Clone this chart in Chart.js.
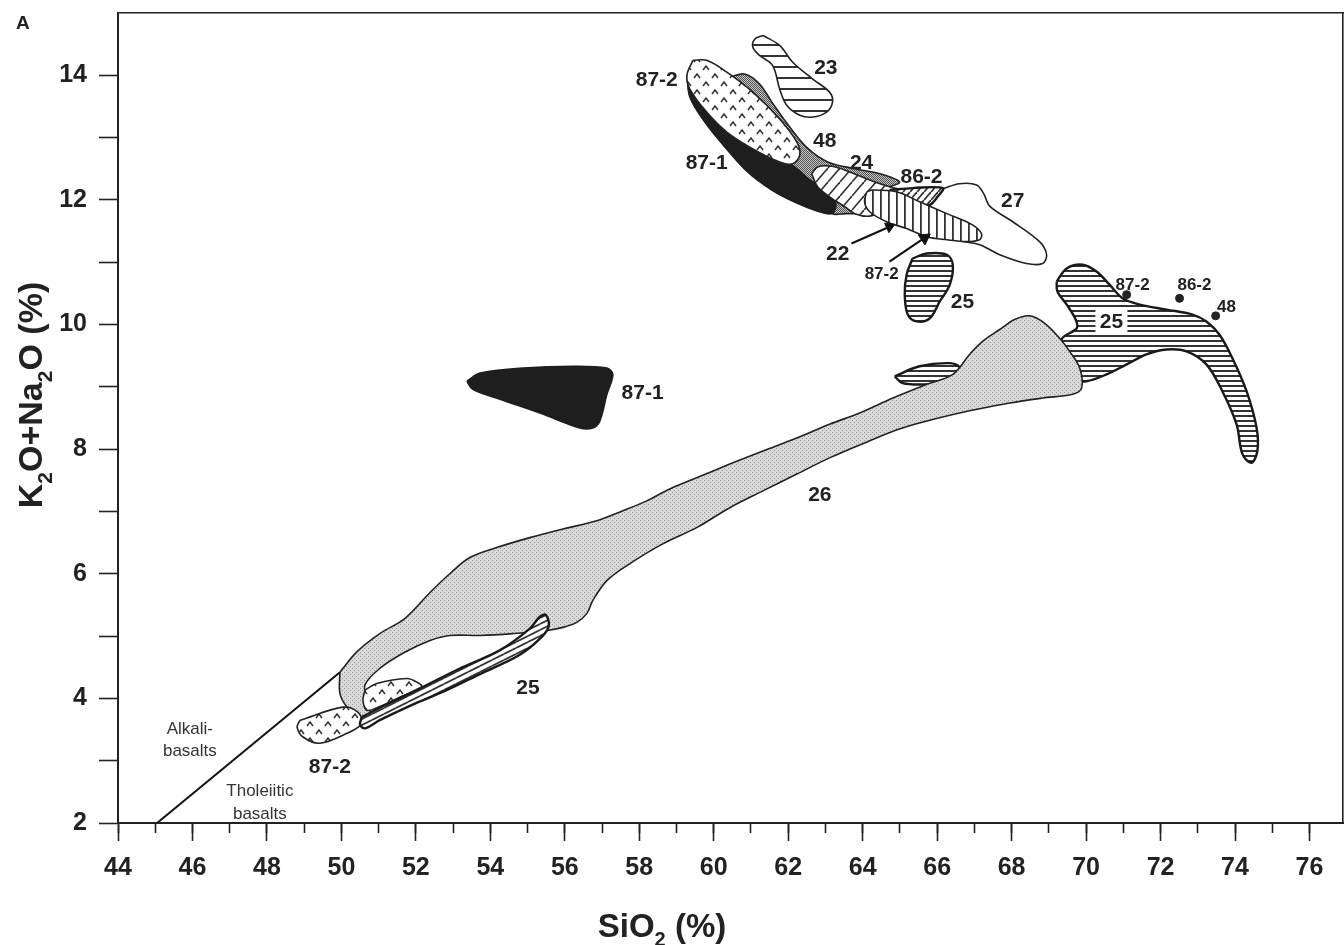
<!DOCTYPE html>
<html>
<head>
<meta charset="utf-8">
<title>K2O+Na2O vs SiO2</title>
<script src="https://cdn.jsdelivr.net/npm/chart.js@4.4.1/dist/chart.umd.min.js"></script>
<style>
  html, body { margin: 0; padding: 0; background: #fff; }
  #wrap { width: 1344px; height: 945px; position: relative; }
</style>
</head>
<body>
<div id="wrap"><canvas id="tasChart"></canvas></div>
<script>
// tick labels
const xTickLabels = [44, 46, 48, 50, 52, 54, 56, 58, 60, 62, 64, 66, 68, 70, 72, 74, 76];
const yTickLabels = [2, 4, 6, 8, 10, 12, 14];

// outlines of the fields, [SiO2, K2O+Na2O]
const field26 = [[49.96,4.42],[50.42,4.75],[51.03,5.04],[51.70,5.28],[52.38,5.70],[52.91,6.00],[53.45,6.26],[54.17,6.42],[55.06,6.58],[55.95,6.72],[56.86,6.85],[57.56,7.01],[58.20,7.17],[58.82,7.36],[59.54,7.54],[60.43,7.76],[61.32,7.97],[62.23,8.18],[63.11,8.40],[63.92,8.58],[64.81,8.82],[65.72,9.04],[66.42,9.20],[66.87,9.52],[67.22,9.73],[67.68,9.92],[68.08,10.08],[68.48,10.14],[68.89,10.02],[69.29,9.78],[69.56,9.57],[69.83,9.30],[69.88,8.98],[69.64,8.88],[68.83,8.82],[67.95,8.74],[66.60,8.58],[65.07,8.34],[64.05,8.10],[63.11,7.86],[62.23,7.60],[61.32,7.33],[60.43,7.06],[59.54,6.74],[58.63,6.48],[57.74,6.16],[57.13,5.89],[56.75,5.57],[56.59,5.36],[56.32,5.22],[55.95,5.14],[55.52,5.09],[54.60,5.04],[53.72,5.01],[52.91,5.01],[52.38,4.93],[51.70,4.74],[51.03,4.48],[50.63,4.21],[50.71,3.97],[50.77,3.73],[50.50,3.68],[50.15,3.86],[49.96,4.08]];
const field25East = [[69.21,10.69],[69.48,10.90],[69.91,10.96],[70.28,10.85],[70.63,10.64],[70.98,10.42],[71.44,10.32],[72.16,10.24],[72.86,10.16],[73.23,10.05],[73.58,9.84],[73.93,9.46],[74.31,8.93],[74.58,8.34],[74.60,7.97],[74.44,7.78],[74.20,7.92],[74.04,8.40],[73.66,8.93],[73.23,9.36],[72.70,9.57],[72.16,9.60],[71.62,9.52],[71.09,9.36],[70.55,9.20],[70.01,9.09],[69.69,9.12],[69.42,9.41],[69.34,9.76],[69.75,9.94],[69.72,10.08],[69.48,10.32],[69.23,10.53]];
const field25Lens = [[64.86,9.17],[65.53,9.33],[66.34,9.38],[66.60,9.31],[66.47,9.09],[65.72,9.04],[65.07,9.06]];
const field25Strip = [[50.55,3.70],[51.17,3.89],[52.11,4.16],[53.18,4.48],[54.25,4.77],[55.06,5.12],[55.33,5.31],[55.49,5.34],[55.57,5.17],[55.40,5.00],[54.79,4.70],[53.72,4.39],[52.78,4.12],[51.84,3.88],[51.03,3.65],[50.63,3.52],[50.50,3.58]];
const field25North = [[65.34,11.06],[65.72,11.14],[66.26,11.12],[66.42,10.96],[66.34,10.64],[66.07,10.37],[65.80,10.10],[65.45,10.05],[65.21,10.16],[65.13,10.48],[65.18,10.80]];
const field87_2West = [[48.89,3.65],[50.04,3.86],[50.44,3.78],[50.55,3.60],[50.15,3.44],[49.42,3.28],[48.97,3.38],[48.81,3.54]];
const field87_2Mid = [[50.63,4.13],[50.95,4.24],[51.76,4.32],[52.03,4.26],[52.16,4.18],[51.57,4.02],[51.03,3.87],[50.68,3.81],[50.58,3.97]];
const field87_2North = [[59.44,14.24],[59.28,14.00],[59.36,13.78],[59.81,13.41],[60.35,13.09],[61.05,12.82],[61.77,12.61],[62.12,12.58],[62.31,12.72],[62.23,12.93],[61.77,13.30],[61.05,13.73],[60.35,14.05],[59.81,14.24]];
const field87_1West = [[53.37,9.09],[53.72,9.22],[54.87,9.30],[56.21,9.33],[57.13,9.30],[57.29,9.20],[57.13,8.88],[56.94,8.45],[56.75,8.34],[56.40,8.34],[55.33,8.58],[54.26,8.80],[53.53,8.96]];
const field87_1North = [[59.28,14.00],[59.36,13.65],[59.76,13.25],[60.30,12.85],[60.91,12.45],[61.56,12.16],[62.23,11.95],[62.79,11.82],[63.17,11.78],[63.28,11.94],[63.01,12.13],[62.52,12.35],[62.17,12.53],[61.23,12.93],[60.16,13.41],[59.62,13.81]];
const field48 = [[60.43,13.97],[60.83,14.02],[61.23,13.86],[61.56,13.57],[62.04,13.17],[62.52,12.83],[63.06,12.61],[63.79,12.50],[64.46,12.42],[64.99,12.29],[64.72,12.21],[64.19,12.13],[63.97,11.81],[63.52,11.78],[63.17,11.78],[62.85,11.97],[62.31,12.29],[61.77,12.58],[61.23,12.93],[60.83,13.33],[60.56,13.65]];
const field24 = [[62.63,12.42],[62.79,12.53],[63.17,12.54],[63.65,12.45],[64.19,12.32],[64.72,12.21],[65.13,12.13],[64.99,11.97],[64.59,11.84],[64.19,11.74],[63.79,11.78],[63.52,11.89],[63.11,12.05],[62.79,12.21]];
const field86_2 = [[64.72,12.16],[65.34,12.19],[66.15,12.19],[66.01,12.05],[65.80,11.92],[65.34,11.89],[64.99,11.97]];
const field22 = [[64.11,12.13],[64.27,12.16],[64.91,12.13],[65.53,11.97],[66.26,11.78],[66.95,11.60],[67.19,11.46],[67.14,11.36],[66.79,11.33],[66.26,11.36],[65.72,11.41],[65.18,11.54],[64.64,11.65],[64.19,11.81],[64.05,11.97]];
const field27 = [[66.15,12.18],[66.60,12.26],[67.06,12.24],[67.25,12.10],[67.41,11.90],[68.03,11.65],[68.75,11.33],[68.94,11.12],[68.83,10.98],[68.40,10.98],[67.68,11.12],[67.14,11.28],[66.47,11.36],[66.07,11.46],[65.66,11.73],[65.80,11.97]];
const field23 = [[61.32,14.64],[61.77,14.48],[62.12,14.21],[62.66,13.94],[63.11,13.73],[63.19,13.57],[63.03,13.41],[62.66,13.33],[62.31,13.36],[61.96,13.52],[61.77,13.78],[61.58,14.16],[61.23,14.32],[61.05,14.45],[61.10,14.58]];

// single samples, dividing line and arrows
const samplePoints = [[71.09,10.48],[72.51,10.42],[73.48,10.14]];
const alkaliLine = [[45.05,2.0],[49.96,4.42]];
const arrow22 = [[63.70,11.30],[64.72,11.57]];
const arrow87_2 = [[64.72,11.01],[65.66,11.39]];

// text labels: text, SiO2, K2O+Na2O, kind
const fieldLabels = [
  ['87-2', 58.47, 13.94, 'big'], ['23', 63.01, 14.13, 'big'], ['48', 62.98, 12.96, 'big'],
  ['87-1', 59.81, 12.61, 'big'], ['24', 63.97, 12.61, 'big'], ['86-2', 65.58, 12.38, 'big'],
  ['27', 68.03, 12.00, 'big'], ['22', 63.33, 11.14, 'big'], ['87-2', 64.51, 10.83, 'small'],
  ['25', 66.68, 10.37, 'big'], ['87-2', 71.25, 10.64, 'small'], ['86-2', 72.91, 10.64, 'small'],
  ['48', 73.77, 10.30, 'small'], ['25', 70.68, 10.05, 'boxed'], ['87-1', 58.09, 8.91, 'big'],
  ['26', 62.85, 7.28, 'big'], ['25', 55.01, 4.18, 'big'], ['87-2', 49.69, 2.91, 'big'],
  ['Alkali-', 45.93, 3.52, 'note'], ['basalts', 45.93, 3.17, 'note'],
  ['Tholeiitic', 47.81, 2.53, 'note'], ['basalts', 47.81, 2.16, 'note']
];

const FONT = '"Liberation Sans", Arial, Helvetica, sans-serif';
const INK = '#222';

function makePattern(w, h, paint) {
  const c = document.createElement('canvas');
  c.width = w; c.height = h;
  const g = c.getContext('2d');
  g.fillStyle = '#fff';
  g.fillRect(0, 0, w, h);
  paint(g, w, h);
  return g.createPattern(c, 'repeat');
}
const hatchH = (gap, lw, col) => makePattern(8, gap, (g, w) => { g.fillStyle = col; g.fillRect(0, 0, w, lw); });
const hatchV = (gap, lw, col) => makePattern(gap, 8, (g, w, h) => { g.fillStyle = col; g.fillRect(0, 0, lw, h); });
const hatchSlope = (w, h, lw, col) => makePattern(w, h, g => {
  g.strokeStyle = col; g.lineWidth = lw;
  for (let k = -1; k <= 1; k++) {
    g.beginPath(); g.moveTo(0, h + k * h); g.lineTo(w, k * h); g.stroke();
  }
});
const caretPattern = makePattern(18, 16, g => {
  g.strokeStyle = '#333'; g.lineWidth = 1.5;
  [[4, 4], [13, 12]].forEach(([x, y]) => {
    g.beginPath(); g.moveTo(x - 3, y + 2); g.lineTo(x, y - 2); g.lineTo(x + 3, y + 2); g.stroke();
  });
});
const screenLight = makePattern(4, 4, g => {
  g.fillStyle = '#d9d9d9'; g.fillRect(0, 0, 4, 4);
  g.fillStyle = '#9a9a9a'; g.fillRect(0, 0, 1, 1); g.fillRect(2, 2, 1, 1);
});
const screenDark = makePattern(2, 2, g => {
  g.fillStyle = '#c4c4c4'; g.fillRect(0, 0, 2, 2);
  g.fillStyle = '#555'; g.fillRect(0, 0, 1, 1); g.fillRect(1, 1, 1, 1);
});

function closed(arr) {
  const pts = arr.map(p => ({x: p[0], y: p[1]}));
  pts.push({x: arr[0][0], y: arr[0][1]});
  return pts;
}
function field(label, arr, fill, order, extra) {
  return Object.assign({
    label, data: closed(arr), showLine: true, shapeFill: fill, order,
    borderColor: INK, borderWidth: 1.6, tension: 0.35,
    pointRadius: 0, pointHoverRadius: 0
  }, extra || {});
}
function segment(label, arr, order, extra) {
  return Object.assign({
    label, data: arr.map(p => ({x: p[0], y: p[1]})), showLine: true, order,
    borderColor: '#111', borderWidth: 2, tension: 0, pointRadius: 0
  }, extra || {});
}

const h25 = hatchH(5, 2, '#333');
const thick = {borderWidth: 2.4, borderColor: '#1a1a1a'};

const datasets = [
  field('25', field25East, h25, 20, thick),
  field('25', field25Lens, h25, 19, thick),
  field('26', field26, screenLight, 18),
  field('87-2', field87_2West, caretPattern, 17),
  field('87-2', field87_2Mid, caretPattern, 17),
  field('25', field25Strip, hatchSlope(12, 6, 1.8, '#333'), 16, thick),
  segment('Alkali / tholeiitic boundary', alkaliLine, 15),
  field('87-1', field87_1West, '#1e1e1e', 14, {borderColor: '#1e1e1e'}),
  field('27', field27, '#fff', 13),
  field('48', field48, screenDark, 12),
  field('87-1', field87_1North, '#1e1e1e', 11, {borderColor: '#1e1e1e'}),
  field('87-2', field87_2North, caretPattern, 10),
  field('24', field24, hatchSlope(12, 14, 1.6, '#333'), 9),
  field('86-2', field86_2, hatchSlope(7, 8, 1.8, '#333'), 8, thick),
  field('22', field22, hatchV(8, 1.8, '#333'), 7),
  field('25', field25North, h25, 6, thick),
  field('23', field23, hatchH(11, 2, '#333'), 5),
  segment('arrow 22', arrow22, 2, {pointRadius: [0, 6], pointStyle: 'triangle', pointRotation: [0, 66], pointBackgroundColor: '#111', pointBorderColor: '#111', pointBorderWidth: 1}),
  segment('arrow 87-2', arrow87_2, 2, {pointRadius: [0, 7], pointStyle: 'triangle', pointRotation: [0, 56], pointBackgroundColor: '#111', pointBorderColor: '#111', pointBorderWidth: 1}),
  {label: 'samples', data: samplePoints.map(p => ({x: p[0], y: p[1]})), order: 1,
   pointRadius: 4, pointBackgroundColor: '#222', pointBorderColor: '#222', showLine: false}
];

// fill each closed outline with its pattern, right before the outline itself is drawn
const shapeFillPlugin = {
  id: 'shapeFill',
  beforeDatasetDraw(chart, args) {
    const ds = chart.data.datasets[args.index];
    const line = args.meta.dataset;
    if (!ds.shapeFill || !line) return;
    const ctx = chart.ctx;
    line.updateControlPoints(chart.chartArea, 'x');
    ctx.save();
    ctx.beginPath();
    line.path(ctx);
    ctx.closePath();
    ctx.fillStyle = ds.shapeFill;
    ctx.fill();
    ctx.restore();
  }
};

function drawRich(ctx, parts, size) {
  const main = `bold ${size}px ${FONT}`;
  const sub = `bold ${Math.round(size * 0.62)}px ${FONT}`;
  let total = 0;
  parts.forEach(([t, s]) => { ctx.font = s ? sub : main; total += ctx.measureText(t).width; });
  let x = -total / 2;
  parts.forEach(([t, s]) => {
    ctx.font = s ? sub : main;
    ctx.fillText(t, x, s ? size * 0.28 : 0);
    x += ctx.measureText(t).width;
  });
}

const annotationPlugin = {
  id: 'annotations',
  afterDatasetsDraw(chart) {
    const {ctx, scales: {x, y}} = chart;
    const fonts = {big: `bold 21px ${FONT}`, small: `bold 17px ${FONT}`, note: `17px ${FONT}`, boxed: `bold 21px ${FONT}`};
    ctx.save();
    ctx.textAlign = 'center';
    ctx.textBaseline = 'middle';
    fieldLabels.forEach(([text, vx, vy, kind]) => {
      const px = x.getPixelForValue(vx);
      const py = y.getPixelForValue(vy);
      ctx.font = fonts[kind];
      if (kind === 'boxed') {
        ctx.fillStyle = '#fff';
        ctx.fillRect(px - 16, py - 13, 32, 26);
      }
      ctx.fillStyle = kind === 'note' ? '#333' : INK;
      ctx.fillText(text, px, py + 1);
    });
    ctx.restore();
  },
  afterDraw(chart) {
    const ctx = chart.ctx;
    ctx.save();
    ctx.fillStyle = INK;
    ctx.textAlign = 'left';
    ctx.textBaseline = 'alphabetic';
    ctx.font = `bold 19px ${FONT}`;
    ctx.fillText('A', 16, 29);
    // axis titles with real subscripts
    ctx.save();
    ctx.translate(662, 937);
    drawRich(ctx, [['SiO', false], ['2', true], [' (%)', false]], 33);
    ctx.restore();
    ctx.save();
    ctx.translate(42, 395);
    ctx.rotate(-Math.PI / 2);
    drawRich(ctx, [['K', false], ['2', true], ['O+Na', false], ['2', true], ['O (%)', false]], 34);
    ctx.restore();
    ctx.restore();
  }
};

const tickFont = {family: FONT, size: 25, weight: 'bold'};
// fixed axis box sizes, no extra room for overhanging tick labels
const fixSize = (w, h) => s => {
  if (w !== null) s.width = w;
  if (h !== null) s.height = h;
  s.paddingTop = 0; s.paddingBottom = 0; s.paddingLeft = 0; s.paddingRight = 0;
};

new Chart(document.getElementById('tasChart'), {
  type: 'scatter',
  data: {datasets},
  plugins: [shapeFillPlugin, annotationPlugin],
  options: {
    responsive: true,
    maintainAspectRatio: false,
    animation: false,
    events: [],
    layout: {autoPadding: false, padding: {top: 13, right: 1, left: 0, bottom: 0}},
    plugins: {legend: {display: false}, tooltip: {enabled: false}},
    scales: {
      x: {
        type: 'linear', position: 'bottom', min: 44, max: 76.9, weight: 1,
        ticks: {stepSize: 2, includeBounds: false, padding: 12, color: INK, font: tickFont,
                callback: v => xTickLabels.includes(v) ? String(v) : ''},
        grid: {drawOnChartArea: false, tickLength: 18, tickWidth: 1.6, tickColor: INK},
        border: {display: true, color: INK, width: 2},
        afterFit: fixSize(null, 122)
      },
      xMinor: {
        type: 'linear', position: 'bottom', min: 44, max: 76.9, weight: 0,
        ticks: {stepSize: 1, includeBounds: false, callback: () => ''},
        grid: {drawOnChartArea: false, tickLength: 10, tickWidth: 1.6, tickColor: INK},
        border: {display: false},
        afterFit: fixSize(null, 0)
      },
      xTop: {
        type: 'linear', position: 'top', min: 44, max: 76.9,
        ticks: {display: false}, grid: {display: false},
        border: {display: true, color: INK, width: 1.6},
        afterFit: fixSize(null, 0)
      },
      y: {
        type: 'linear', position: 'left', min: 2, max: 15,
        ticks: {stepSize: 1, padding: 12, color: INK, font: tickFont,
                callback: v => yTickLabels.includes(v) ? String(v) : ''},
        grid: {drawOnChartArea: false, tickLength: 19, tickWidth: 1.6,
               tickColor: c => c.tick && c.tick.value === 15 ? 'rgba(0,0,0,0)' : INK},
        border: {display: true, color: INK, width: 2},
        afterFit: fixSize(118, null)
      },
      yRight: {
        type: 'linear', position: 'right', min: 2, max: 15,
        ticks: {display: false}, grid: {display: false},
        border: {display: true, color: INK, width: 1.6},
        afterFit: fixSize(0, null)
      }
    }
  }
});
</script>
</body>
</html>
